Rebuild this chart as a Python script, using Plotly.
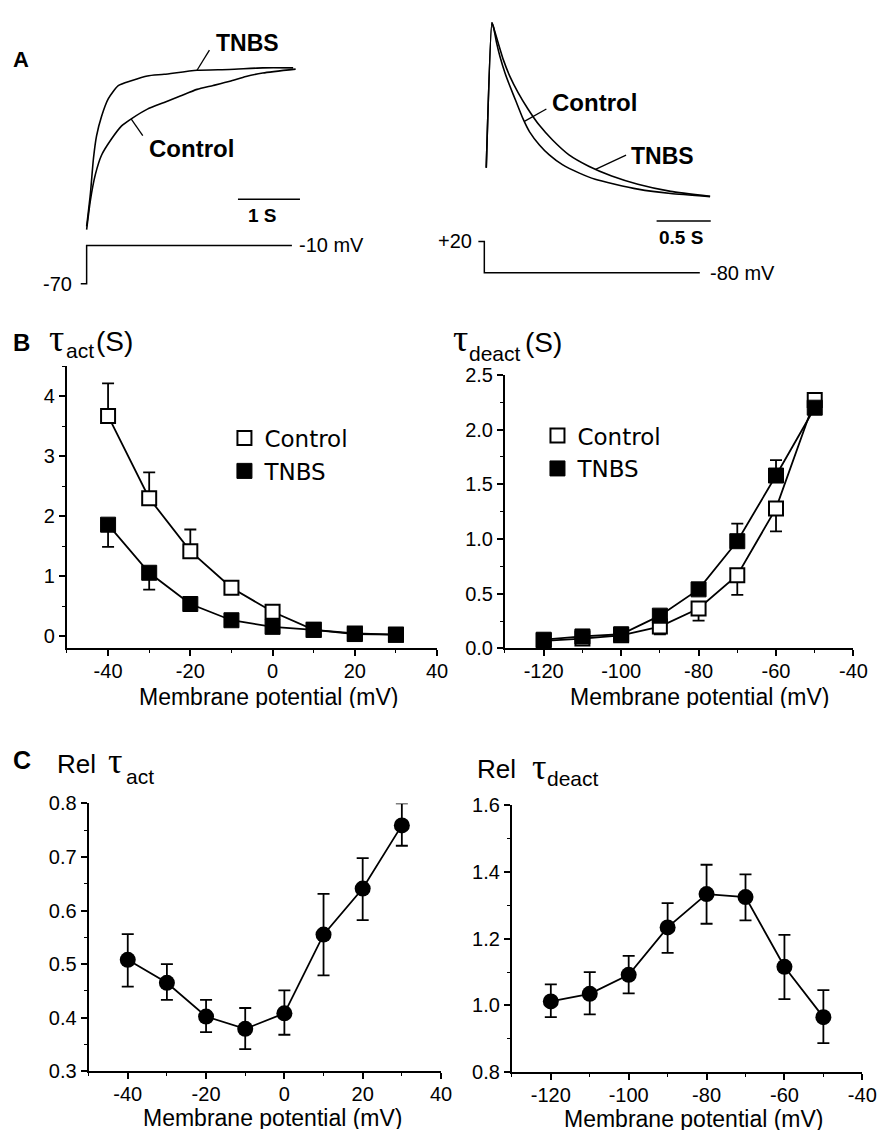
import plotly.graph_objects as go

W, H = 896, 1142


def fx(p):
    return p / W


def fy(p):
    return 1 - p / H


# ---------------- DATA ----------------
# Panel A, left: activation current traces (time in s, normalized current)
a_act_t_tnbs = [0, 0.06, 0.11, 0.16, 0.24, 0.35, 0.51, 0.72, 0.98, 1.25, 1.78, 2.30, 2.84, 3.33]
a_act_i_tnbs = [0.02, 0.22, 0.44, 0.58, 0.70, 0.81, 0.89, 0.92, 0.95, 0.96, 0.985, 0.99, 1.0, 1.0]
a_act_t_ctrl = [0, 0.06, 0.14, 0.24, 0.40, 0.56, 0.72, 0.98, 1.25, 1.51, 1.78, 2.04, 2.31, 2.57, 2.84, 3.37]
a_act_i_ctrl = [0.0, 0.18, 0.34, 0.46, 0.56, 0.64, 0.685, 0.745, 0.786, 0.826, 0.867, 0.891, 0.917, 0.947, 0.968, 0.992]
prot_act_t = [-0.095, 0, 0, 3.31]
prot_act_v = [-70, -70, -10, -10]

# Panel A, right: deactivation tail currents
a_deact_t_ctrl = [0.018, 0.07, 0.085, 0.115, 0.145, 0.191, 0.236, 0.297, 0.358, 0.418, 0.509, 0.60,
                  0.721, 0.873, 1.024, 1.206, 1.418, 1.721, 2.085]
a_deact_i_ctrl = [0.169, 1.0, 0.974, 0.880, 0.805, 0.712, 0.637, 0.543, 0.449, 0.375, 0.300, 0.243,
                  0.187, 0.140, 0.103, 0.075, 0.047, 0.022, 0.004]
a_deact_t_tnbs = [0.018, 0.07, 0.085, 0.130, 0.176, 0.236, 0.312, 0.403, 0.509, 0.630, 0.782, 0.964,
                  1.176, 1.418, 1.721, 2.085]
a_deact_i_tnbs = [0.169, 1.0, 0.974, 0.880, 0.787, 0.693, 0.600, 0.506, 0.412, 0.328, 0.243, 0.178,
                  0.122, 0.075, 0.034, 0.006]
prot_deact_t = [-0.055, 0, 0, 1.99]
prot_deact_v = [20, 20, -80, -80]

# Panel B
v_act = [-40, -30, -20, -10, 0, 10, 20, 30]
tau_act_ctrl = [3.67, 2.30, 1.42, 0.81, 0.41, 0.11, 0.05, 0.03]
tau_act_ctrl_err = [0.54, 0.43, 0.36, 0.10, 0.05, 0.02, 0.02, 0.02]
tau_act_tnbs = [1.86, 1.06, 0.54, 0.27, 0.16, 0.11, 0.04, 0.03]
tau_act_tnbs_err = [0.37, 0.28, 0.05, 0.04, 0.03, 0.02, 0.02, 0.02]

v_deact = [-120, -110, -100, -90, -80, -70, -60, -50]
tau_deact_ctrl = [0.07, 0.09, 0.12, 0.20, 0.365, 0.67, 1.28, 2.27]
tau_deact_ctrl_err = [0.02, 0.02, 0.02, 0.07, 0.11, 0.18, 0.21, 0.03]
tau_deact_tnbs = [0.08, 0.11, 0.13, 0.30, 0.54, 0.98, 1.58, 2.20]
tau_deact_tnbs_err = [0.02, 0.02, 0.02, 0.03, 0.03, 0.16, 0.14, 0.03]

# Panel C
rel_act = [0.508, 0.465, 0.402, 0.379, 0.408, 0.555, 0.641, 0.759]
rel_act_plus = [0.048, 0.035, 0.031, 0.039, 0.043, 0.076, 0.057, 0.041]
rel_act_minus = [0.050, 0.032, 0.029, 0.038, 0.040, 0.076, 0.059, 0.038]
rel_deact = [1.012, 1.035, 1.092, 1.234, 1.334, 1.325, 1.116, 0.965]
rel_deact_plus = [0.051, 0.065, 0.057, 0.073, 0.088, 0.068, 0.096, 0.081]
rel_deact_minus = [0.047, 0.062, 0.056, 0.076, 0.089, 0.070, 0.097, 0.078]

# tick labels
act_xticks = [-40, -20, 0, 20, 40]
act_xlabels = ["-40", "-20", "0", "20", "40"]
deact_xticks = [-120, -100, -80, -60, -40]
deact_xlabels = ["-120", "-100", "-80", "-60", "-40"]
bl_yticks = [0, 1, 2, 3, 4]
br_yticks = [0.0, 0.5, 1.0, 1.5, 2.0, 2.5]
cl_yticks = [0.3, 0.4, 0.5, 0.6, 0.7, 0.8]
cr_yticks = [0.8, 1.0, 1.2, 1.4, 1.6]

# ---------------- FIGURE ----------------
fig = go.Figure()
BLK = "black"
SANS = "Liberation Sans"
SERIF = "Liberation Serif"

for t, i in [(a_act_t_ctrl, a_act_i_ctrl), (a_act_t_tnbs, a_act_i_tnbs)]:
    fig.add_trace(go.Scatter(x=t, y=i, mode="lines", line=dict(color=BLK, width=1.6, shape="spline", smoothing=0.6),
                             xaxis="x5", yaxis="y5", showlegend=False, hoverinfo="skip"))
fig.add_trace(go.Scatter(x=prot_act_t, y=prot_act_v, mode="lines", line=dict(color=BLK, width=1.5),
                         xaxis="x5", yaxis="y7", showlegend=False, hoverinfo="skip"))
for t, i in [(a_deact_t_ctrl, a_deact_i_ctrl), (a_deact_t_tnbs, a_deact_i_tnbs)]:
    fig.add_trace(go.Scatter(x=t, y=i, mode="lines", line=dict(color=BLK, width=1.6, shape="spline", smoothing=0.5),
                             xaxis="x6", yaxis="y6", showlegend=False, hoverinfo="skip"))
fig.add_trace(go.Scatter(x=prot_deact_t, y=prot_deact_v, mode="lines", line=dict(color=BLK, width=1.5),
                         xaxis="x6", yaxis="y8", showlegend=False, hoverinfo="skip"))

SQ = 14
ERR = dict(color=BLK, thickness=1.8, width=6)
open_sq = dict(symbol="square", size=SQ, color="white", line=dict(color=BLK, width=2))
fill_sq = dict(symbol="square", size=SQ + 1, color=BLK, line=dict(color=BLK, width=1))

fig.add_trace(go.Scatter(x=v_act, y=tau_act_ctrl, mode="lines+markers", line=dict(color=BLK, width=1.8),
                         marker=open_sq, showlegend=False, xaxis="x", yaxis="y",
                         error_y=dict(type="data", symmetric=False, array=tau_act_ctrl_err,
                                      arrayminus=[0] * len(v_act), **ERR)))
fig.add_trace(go.Scatter(x=v_act, y=tau_act_tnbs, mode="lines+markers", line=dict(color=BLK, width=1.8),
                         marker=fill_sq, showlegend=False, xaxis="x", yaxis="y",
                         error_y=dict(type="data", symmetric=False, array=[0] * len(v_act),
                                      arrayminus=tau_act_tnbs_err, **ERR)))
fig.add_trace(go.Scatter(x=[None], y=[None], mode="markers", marker=open_sq, name="Control",
                         legend="legend", xaxis="x", yaxis="y"))
fig.add_trace(go.Scatter(x=[None], y=[None], mode="markers", marker=fill_sq, name="TNBS",
                         legend="legend", xaxis="x", yaxis="y"))

fig.add_trace(go.Scatter(x=v_deact, y=tau_deact_ctrl, mode="lines+markers", line=dict(color=BLK, width=1.8),
                         marker=open_sq, showlegend=False, xaxis="x2", yaxis="y2",
                         error_y=dict(type="data", symmetric=False, array=[0] * len(v_deact),
                                      arrayminus=tau_deact_ctrl_err, **ERR)))
fig.add_trace(go.Scatter(x=v_deact, y=tau_deact_tnbs, mode="lines+markers", line=dict(color=BLK, width=1.8),
                         marker=fill_sq, showlegend=False, xaxis="x2", yaxis="y2",
                         error_y=dict(type="data", symmetric=False, array=tau_deact_tnbs_err,
                                      arrayminus=[0] * len(v_deact), **ERR)))
fig.add_trace(go.Scatter(x=[None], y=[None], mode="markers", marker=open_sq, name="Control",
                         legend="legend2", xaxis="x2", yaxis="y2"))
fig.add_trace(go.Scatter(x=[None], y=[None], mode="markers", marker=fill_sq, name="TNBS",
                         legend="legend2", xaxis="x2", yaxis="y2"))

circ = dict(symbol="circle", size=16, color=BLK)
fig.add_trace(go.Scatter(x=v_act, y=rel_act, mode="lines+markers", line=dict(color=BLK, width=1.8),
                         marker=circ, showlegend=False, xaxis="x3", yaxis="y3",
                         error_y=dict(type="data", symmetric=False, array=rel_act_plus,
                                      arrayminus=rel_act_minus, **ERR)))
fig.add_trace(go.Scatter(x=v_deact, y=rel_deact, mode="lines+markers", line=dict(color=BLK, width=1.8),
                         marker=circ, showlegend=False, xaxis="x4", yaxis="y4",
                         error_y=dict(type="data", symmetric=False, array=rel_deact_plus,
                                      arrayminus=rel_deact_minus, **ERR)))

tickfont = dict(family=SANS, size=20, color=BLK)


def ax(**kw):
    d = dict(showline=True, linecolor=BLK, linewidth=2, ticks="outside", ticklen=6, tickwidth=1.5,
             tickcolor=BLK, showgrid=False, zeroline=False, tickfont=tickfont, mirror=False,
             fixedrange=True)
    d.update(kw)
    return d


def minor(dt):
    return dict(ticks="outside", ticklen=3, tickwidth=1.2, tickcolor=BLK, dtick=dt, tick0=0, tickmode="linear",
                showgrid=False)


hidden = dict(visible=False, fixedrange=True, showgrid=False, zeroline=False)

fig.update_layout(
    xaxis=ax(domain=[fx(68), fx(444)], range=[-50, 40], tickmode="array", tickvals=act_xticks,
             ticktext=act_xlabels, minor=minor(10), anchor="y", ticklabelstandoff=-2),
    yaxis=ax(domain=[fy(650), fy(362)], range=[-0.2, 4.5], tickmode="array", tickvals=bl_yticks,
             ticktext=[str(v) for v in bl_yticks], minor=minor(0.5), anchor="x"),
    xaxis2=ax(domain=[fx(513), fx(867)], range=[-130, -40], tickmode="array", tickvals=deact_xticks,
              ticktext=deact_xlabels, minor=minor(10), anchor="y2", ticklabelstandoff=-2),
    yaxis2=ax(domain=[fy(650), fy(371)], range=[0, 2.5], tickmode="array", tickvals=br_yticks,
              ticktext=["%.1f" % v for v in br_yticks], minor=minor(0.25), anchor="x2"),
    xaxis3=ax(domain=[fx(90), fx(448)], range=[-50, 40], tickmode="array", tickvals=act_xticks,
              ticktext=act_xlabels, minor=minor(10), anchor="y3", ticklabelstandoff=-2),
    yaxis3=ax(domain=[fy(1081), fy(808)], range=[0.3, 0.8], tickmode="array", tickvals=cl_yticks,
              ticktext=["%.1f" % v for v in cl_yticks], minor=minor(0.05), anchor="x3"),
    xaxis4=ax(domain=[fx(520), fx(876)], range=[-130, -40], tickmode="array", tickvals=deact_xticks,
              ticktext=deact_xlabels, minor=minor(10), anchor="y4", ticklabelstandoff=-2),
    yaxis4=ax(domain=[fy(1082), fy(810)], range=[0.8, 1.6], tickmode="array", tickvals=cr_yticks,
              ticktext=["%.1f" % v for v in cr_yticks], minor=minor(0.1), anchor="x4"),
    xaxis5=dict(domain=[fx(40), fx(440)], range=[-0.762, 5.587], anchor="y5", **hidden),
    yaxis5=dict(domain=[fy(230), fy(20)], range=[-0.0424, 1.230], anchor="x5", **hidden),
    yaxis7=dict(domain=[fy(290), fy(230)], range=[-88.5, 3.85], anchor="x5", **hidden),
    xaxis6=dict(domain=[fx(448), fx(880)], range=[-0.4, 3.527], anchor="y6", **hidden),
    yaxis6=dict(domain=[fy(240), fy(0)], range=[-0.281, 1.067], anchor="x6", **hidden),
    yaxis8=dict(domain=[fy(280), fy(225)], range=[-120.6, 51.25], anchor="x6", **hidden),
)

leg_font = dict(family="DejaVu Sans", size=23, color=BLK)
fig.update_layout(
    legend=dict(x=fx(228), y=fy(413.5), xanchor="left", yanchor="top", font=leg_font,
                bgcolor="rgba(0,0,0,0)", borderwidth=0, tracegroupgap=0),
    legend2=dict(x=fx(546), y=fy(411), xanchor="left", yanchor="top", font=leg_font,
                 bgcolor="rgba(0,0,0,0)", borderwidth=0, tracegroupgap=0),
)

ann = []


def txt(text, x, y, size, family=SANS, xanchor="left", yanchor="middle", xref="paper", yref="paper",
        height=None):
    if xref == "paper":
        x = fx(x)
    if yref == "paper":
        y = fy(y)
    a = dict(text=text, x=x, y=y, xref=xref, yref=yref, xanchor=xanchor, yanchor=yanchor,
             showarrow=False, font=dict(family=family, size=size, color=BLK), borderpad=0)
    if height is not None:
        a["height"] = height
        a["valign"] = "middle"
    ann.append(a)


txt("<b>A</b>", 12, 49.5, 22)
txt("<b>B</b>", 12, 338.5, 24)
txt("<b>C</b>", 12, 764, 25)

txt("τ", 49, 333, 38, family=SERIF)
txt("act", 66, 346, 21)
txt("(S)", 97, 337.5, 28)
txt("τ", 459, 333.5, 38, family=SERIF)
txt("deact", 475, 349, 21)
txt("(S)", 532, 338, 28)

txt("Rel", 57, 767.5, 26)
txt("τ", 109, 764.5, 36, family=SERIF)
txt("act", 127, 781, 21)
txt("Rel", 484, 772.5, 26)
txt("τ", 539, 770.5, 36, family=SERIF)
txt("deact", 555, 783, 21)

for cx, cy in [(273.5, 699), (711, 699), (277.5, 1129), (705.5, 1130)]:
    txt("Membrane potential (mV)", cx, cy, 23, xanchor="center", height=22)

txt("<b>TNBS</b>", 2.587, 1.152, 23, xanchor="center", xref="x5", yref="y5")
txt("<b>Control</b>", 1.698, 0.503, 24, xanchor="center", xref="x5", yref="y5")
txt("<b>1 S</b>", 2.84, 0.088, 19, xanchor="center", xref="x5", yref="y5")
txt("-10 mV", 3.41, -10, 20, xanchor="left", xref="x5", yref="y7")
txt("-70", -0.222, -70, 20, xanchor="right", xref="x5", yref="y7")
txt("<b>Control</b>", 1.018, 0.545, 24, xanchor="center", xref="x6", yref="y6")
txt("<b>TNBS</b>", 1.645, 0.236, 23, xanchor="center", xref="x6", yref="y6")
txt("<b>0.5 S</b>", 1.814, -0.228, 19, xanchor="center", xref="x6", yref="y6")
txt("+20", -0.109, 20, 20, xanchor="right", xref="x6", yref="y8")
txt("-80 mV", 2.073, -80, 20, xanchor="left", xref="x6", yref="y8")

fig.update_layout(annotations=ann)

shapes = [
    dict(type="line", xref="x5", yref="y5", x0=2.44, x1=3.44, y0=0.188, y1=0.188, line=dict(color=BLK, width=1.5)),
    dict(type="line", xref="x6", yref="y6", x0=1.591, x1=2.091, y0=-0.135, y1=-0.135, line=dict(color=BLK, width=1.5)),
    dict(type="line", xref="x5", yref="y5", x0=1.98, y0=1.109, x1=1.78, y1=0.985, line=dict(color=BLK, width=1.3)),
    dict(type="line", xref="x5", yref="y5", x0=0.905, y0=0.582, x1=0.72, y1=0.683, line=dict(color=BLK, width=1.3)),
    dict(type="line", xref="x6", yref="y6", x0=0.573, y0=0.506, x1=0.37, y1=0.435, line=dict(color=BLK, width=1.3)),
    dict(type="line", xref="x6", yref="y6", x0=1.309, y0=0.242, x1=1.027, y1=0.16, line=dict(color=BLK, width=1.3)),
]
fig.update_layout(shapes=shapes)

fig.update_layout(width=W, height=H, margin=dict(l=0, r=0, t=0, b=0), paper_bgcolor="white",
                  plot_bgcolor="white", showlegend=True, font=dict(family=SANS, color=BLK))

fig.write_html("out.html", config={"displayModeBar": False},
               post_script="document.body.style.margin='0';document.body.style.padding='0';"
                           "document.documentElement.style.overflow='hidden';")
